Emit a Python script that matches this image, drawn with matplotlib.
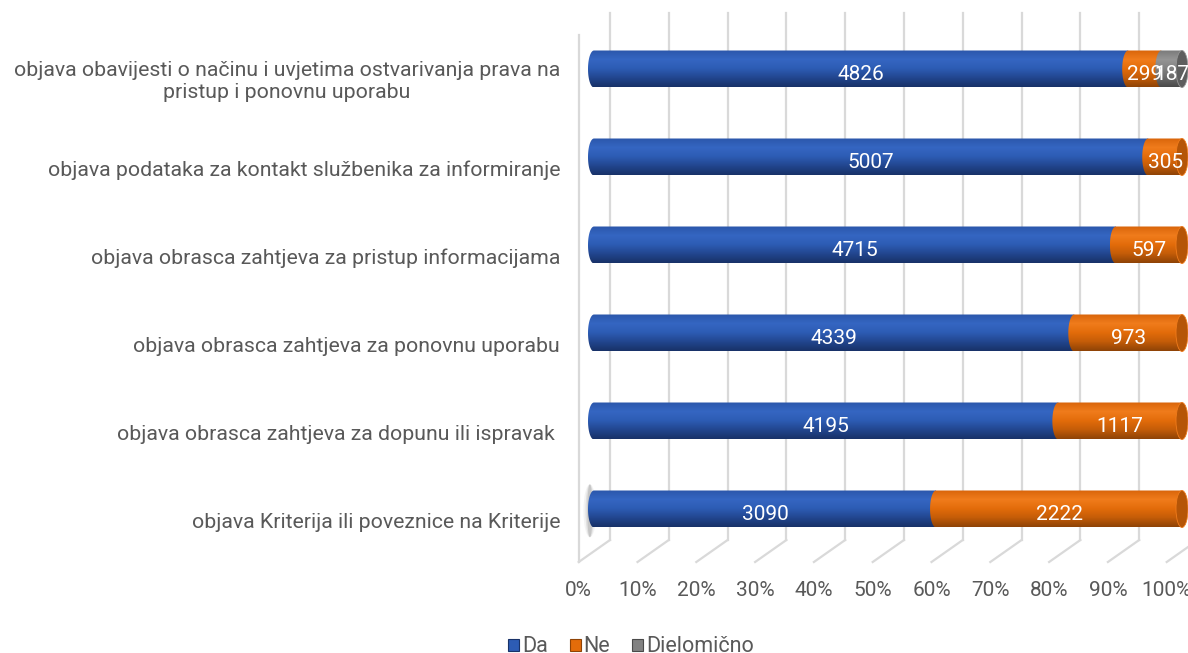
import numpy as np
import matplotlib
matplotlib.use("Agg")
import matplotlib.pyplot as plt
from matplotlib.path import Path
from matplotlib.patches import PathPatch, Ellipse, Patch
from matplotlib.colors import LinearSegmentedColormap

plt.rcParams['font.family'] = ['Roboto', 'DejaVu Sans']

categories = [
    "objava obavijesti o načinu i uvjetima ostvarivanja prava na\npristup i ponovnu uporabu",
    "objava podataka za kontakt službenika za informiranje",
    "objava obrasca zahtjeva za pristup informacijama",
    "objava obrasca zahtjeva za ponovnu uporabu",
    "objava obrasca zahtjeva za dopunu ili ispravak ",
    "objava Kriterija ili poveznice na Kriterije",
]
da = [4826, 5007, 4715, 4339, 4195, 3090]
ne = [299, 305, 597, 973, 1117, 2222]
djelomicno = [187, 0, 0, 0, 0, 0]
series_names = ["Da", "Ne", "Dielomično"]
tick_labels = ["0%", "10%", "20%", "30%", "40%", "50%", "60%", "70%", "80%", "90%", "100%"]

# shading for each series: top -> highlight -> bottom
shades = [
    ["#2b57ab", "#3566c2", "#2d5cb4", "#22468f", "#183268"],
    ["#d9650a", "#f07c1c", "#e36c0a", "#c45c08", "#8f4306"],
    ["#7a7a7a", "#959595", "#828282", "#6a6a6a", "#4a4a4a"],
]
end_face = ["#1f3f80", "#b55507", "#5e5e5e"]
text_gray = "#595959"
grid_c = "#d9d9d9"

fig = plt.figure(figsize=(11.88, 6.53), dpi=100)
W, H = 1188, 653
top_px, bot_px = 0, 575
ax = fig.add_axes([570 / W, 1 - bot_px / H, (W - 570) / W, (bot_px - top_px) / H])
ax.axis("off")

front = -2.6   # front plane offset (percent units)
back = 2.72    # back wall offset
back_top, back_bot, front_bot = (13 - 69) / 88, (540 - 69) / 88, (562 - 69) / 88

# back wall gridlines + floor lines
for k in range(11):
    ax.plot([back + 10 * k] * 2, [back_top, back_bot], color=grid_c, lw=1.6, zorder=0)
    ax.plot([back + 10 * k, front + 10 * k], [back_bot, front_bot], color=grid_c, lw=1.6, zorder=0)
    ax.text(front + 10 * k, (590 - 69) / 88, tick_labels[k], ha="center", va="center",
            fontsize=15, color=text_gray)
ax.plot([front, front], [(35 - 69) / 88, front_bot], color=grid_c, lw=1.6, zorder=0)

bar_h = 37 / 88
cap_w = 12 / 5.88
grad = np.linspace(0, 1, 64).reshape(-1, 1)


def segment(s, e, y, j, z):
    a, b = cap_w / 2, bar_h / 2
    th = np.linspace(np.pi / 2, 3 * np.pi / 2, 40)
    pts = [(s, y - b), (e, y - b), (e, y + b)] + [(s + a * np.cos(t), y + b * np.sin(t)) for t in th]
    verts = np.array(pts + [pts[0]])
    codes = [Path.MOVETO] + [Path.LINETO] * (len(verts) - 2) + [Path.CLOSEPOLY]
    patch = PathPatch(Path(verts, codes), facecolor="none", edgecolor="none", transform=ax.transData)
    ax.add_patch(patch)
    cmap = LinearSegmentedColormap.from_list("c%d" % j, shades[j])
    im = ax.imshow(grad, cmap=cmap, extent=(s - a, e, y + b, y - b), aspect="auto",
                   origin="upper", zorder=z, interpolation="bilinear")
    im.set_clip_path(patch)


rows = list(zip(da, ne, djelomicno))
for i, vals in enumerate(rows):
    total = sum(vals)
    # faint shadow at the left cap of the last bar
    if i == len(rows) - 1:
        for w, al in [(2.2, 0.06), (1.5, 0.1), (0.9, 0.16)]:
            ax.add_patch(Ellipse((-0.7, i + 0.02), w, 0.6, color="#404040", alpha=al, lw=0, zorder=1))
    start = 0.0
    last = 0
    for j, v in enumerate(vals):
        if v == 0:
            continue
        end = start + 100 * v / total
        segment(start, end, i, j, 2 + j)
        ax.text((start + end) / 2, i + 5 / 88, str(v), ha="center", va="center",
                color="white", fontsize=15, zorder=10)
        start = end
        last = j
    ax.add_patch(Ellipse((100, i), cap_w, bar_h, facecolor=end_face[last],
                         edgecolor=shades[last][1], lw=0.6, zorder=6))
    ax.text((560 - 594) / 5.88, i + 13 / 88, categories[i], ha="right", va="center",
            multialignment="center", linespacing=1.2, fontsize=15.3, color=text_gray)

ax.set_xlim((570 - 594) / 5.88, (1188 - 594) / 5.88)
ax.set_ylim((bot_px - 69) / 88, (top_px - 69) / 88)

handles = [Patch(facecolor=shades[j][2], edgecolor=shades[j][4], lw=0.8) for j in range(3)]
leg = fig.legend(handles, series_names, loc="center",
                 bbox_to_anchor=(631 / W, 1 - 647 / H), ncol=3, frameon=False,
                 fontsize=15.5, handlelength=0.5, handleheight=0.5, handletextpad=0.15,
                 columnspacing=1.0, labelcolor=text_gray)

fig.savefig("out.png", dpi=100)
